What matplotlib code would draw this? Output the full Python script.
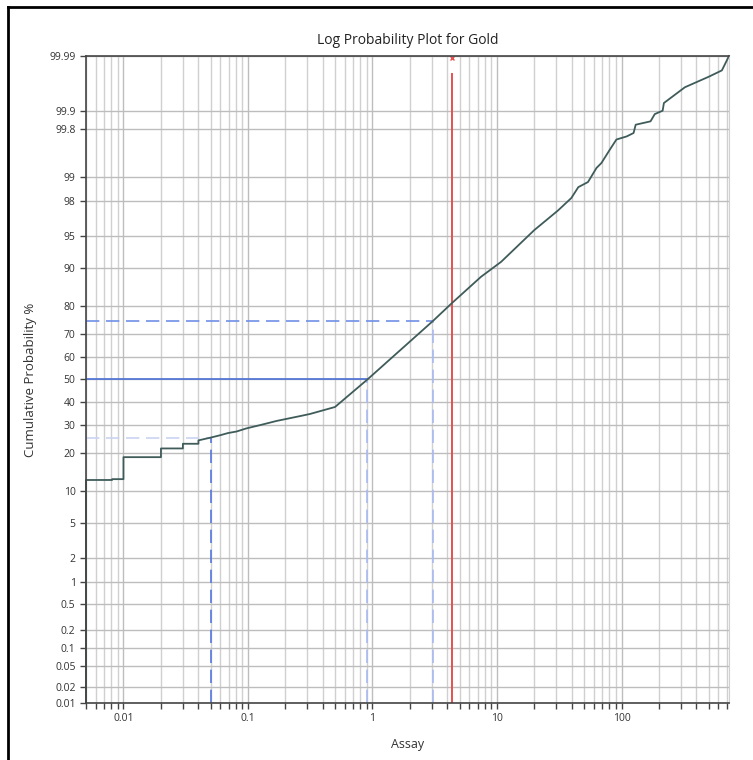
import numpy as np
import matplotlib
matplotlib.use('Agg')
import matplotlib.pyplot as plt
from matplotlib.ticker import FixedLocator, FuncFormatter, LogLocator, NullFormatter
from matplotlib.lines import Line2D
from statistics import NormalDist

plt.rcParams['font.family'] = ['Open Sans', 'DejaVu Sans']

# curve (assay, cumulative %)
assay = [0.005, 0.005, 0.0081, 0.0081, 0.01, 0.01, 0.02, 0.02, 0.03, 0.03, 0.04, 0.04,
         0.05, 0.06, 0.069, 0.081, 0.097, 0.125, 0.17, 0.262, 0.315, 0.5, 0.91, 3.05,
         4.34, 7.43, 10.8, 19.9, 30.9, 39.5, 45, 53.8, 63, 69, 80, 91, 110, 125, 130,
         171, 185, 214, 219, 323, 502, 640, 730]
cum_pct = [0.01, 12.4, 12.4, 12.6, 12.6, 18.6, 18.6, 21.4, 21.4, 23.0, 23.0, 24.2,
           25.2, 26.1, 26.9, 27.5, 28.7, 30.0, 31.7, 33.7, 34.6, 37.6, 50.0, 74.9,
           81.0, 88.1, 91.2, 95.7, 97.4, 98.15, 98.65, 98.84, 99.25, 99.36, 99.58, 99.71,
           99.74, 99.77, 99.83, 99.85, 99.886, 99.90, 99.926, 99.961, 99.975, 99.981, 99.99]

# percentiles marked with dashed guides
pcts = [25, 50, 75]
pct_vals = [0.05, 0.9, 3.05]
mean_val = 4.34

y_ticks = [0.01, 0.02, 0.05, 0.1, 0.2, 0.5, 1, 2, 5, 10, 20, 30, 40, 50, 60, 70, 80,
           90, 95, 98, 99, 99.8, 99.9, 99.99]
x_ticks = [0.01, 0.1, 1, 10, 100]

nd = NormalDist()
_f = np.vectorize(lambda v: nd.inv_cdf(v / 100.0), otypes=[float])
_i = np.vectorize(lambda v: nd.cdf(v) * 100.0, otypes=[float])


def fwd(p):
    p = np.clip(np.asarray(p, float), 1e-7, 100 - 1e-7)
    return _f(p)


def inv(z):
    return _i(np.asarray(z, float))


fig = plt.figure(figsize=(7.53, 7.6), dpi=100)
ax = fig.add_axes([86 / 753, 1 - 703 / 760, (729 - 86) / 753, (703 - 56) / 760])
ax.set_xscale('log')
ax.set_yscale('function', functions=(fwd, inv))
ax.set_xlim(0.005, 730)
ax.set_ylim(0.01, 99.99)

ax.yaxis.set_major_locator(FixedLocator(y_ticks))
ax.yaxis.set_major_formatter(FuncFormatter(lambda v, p: '{:g}'.format(v)))
ax.yaxis.set_minor_locator(FixedLocator([]))
ax.xaxis.set_major_locator(FixedLocator(x_ticks))
ax.xaxis.set_major_formatter(FuncFormatter(lambda v, p: '{:g}'.format(v)))
ax.xaxis.set_minor_locator(LogLocator(base=10, subs=np.arange(2, 10), numticks=20))
ax.xaxis.set_minor_formatter(NullFormatter())

ax.grid(True, which='major', axis='both', color='#bdbdbd', lw=1)
ax.grid(True, which='minor', axis='x', color='#d0d0d0', lw=1)
ax.set_axisbelow(True)

ax.tick_params(axis='both', which='both', direction='out', length=4, width=1,
               color='#444444', labelsize=7.5, labelcolor='#333333')
ax.tick_params(axis='x', pad=3)
for s in ['left', 'bottom', 'top']:
    ax.spines[s].set_color('#444444')
    ax.spines[s].set_linewidth(1.2)
ax.spines['right'].set_color('#d0d0d0')

# guide lines
h_cols = ['#c9d3f2', '#4a6fd6', '#6f8fe8']
v_cols = ['#5577e0', '#a9baf0', '#a9baf0']
for p, v, hc, vc in zip(pcts, pct_vals, h_cols, v_cols):
    ax.plot([0.005, v], [p, p], color=hc, lw=1.2, ls=(0, (8, 4)) if p != 50 else '-')
    ax.plot([v, v], [0.01, p], color=vc, lw=1.2, ls=(0, (8, 4)))

ax.plot([mean_val, mean_val], [0.01, 99.978], color='#e85050', lw=1.4)
ax.plot([mean_val], [99.989], marker='x', ms=3, color='#e85050', mew=1)

ax.plot(assay, cum_pct, color='#3f5c5a', lw=1.3, clip_on=False)

ax.set_title('Log Probability Plot for Gold', fontsize=10, color='#222222', pad=9)
ax.set_xlabel('Assay', fontsize=9, color='#333333', labelpad=10)
ax.set_ylabel('Cumulative Probability %', fontsize=9.5, color='#333333', labelpad=9)

# frame round the figure
fig.add_artist(Line2D([8 / 753, 1], [1 - 7 / 760, 1 - 7 / 760], color='black', lw=2,
                      transform=fig.transFigure))
fig.add_artist(Line2D([8 / 753, 8 / 753], [0, 1 - 7 / 760], color='black', lw=2,
                      transform=fig.transFigure))

fig.savefig('out.png', dpi=100)
